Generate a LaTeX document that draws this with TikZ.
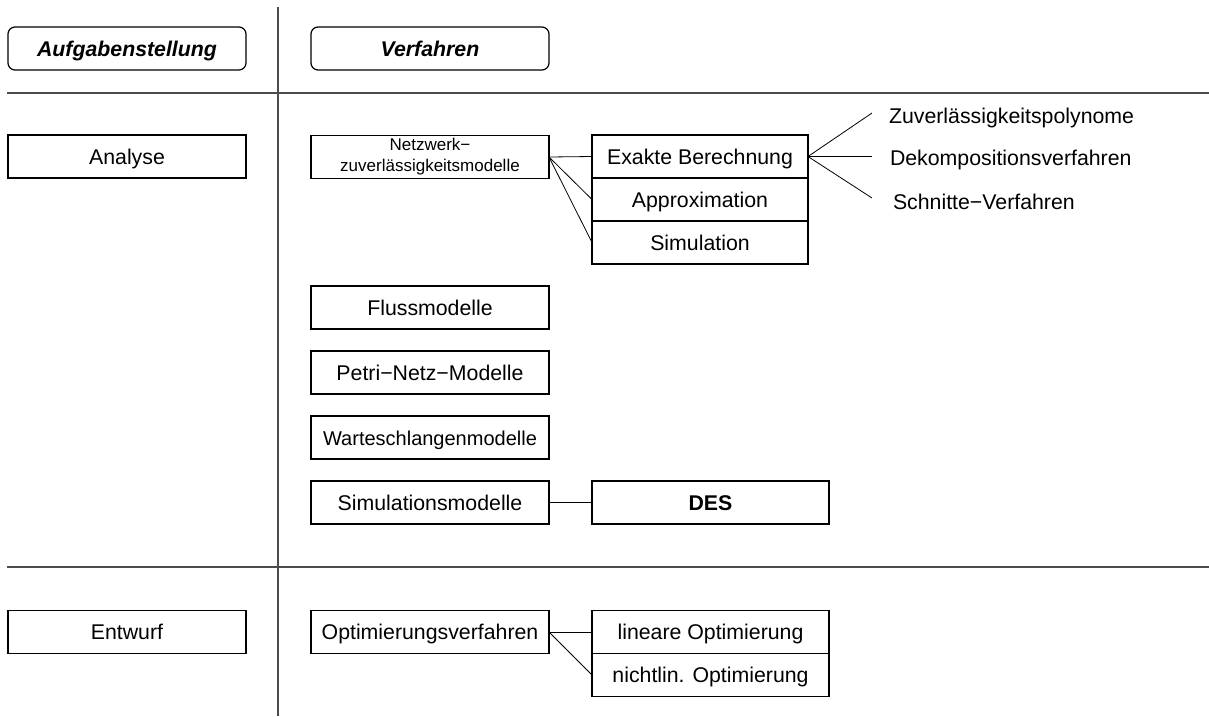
\documentclass[tikz,border=0pt]{standalone}
\usepackage{fontspec}
\setmainfont{Liberation Sans}
\newcommand\mainsize{\fontsize{21.3}{25}\selectfont}
\newcommand\smallsize{\fontsize{17}{21}\selectfont}
\begin{document}
\begin{tikzpicture}[x=1pt,y=-1pt,
  every node/.style={inner sep=0pt, outer sep=0pt},
  boxbase/.style={draw=black, line width=1.2pt, minimum height=43pt, align=center},
  oneline/.style={text height=15pt, text depth=0pt, font=\mainsize},
  colbox/.style={boxbase, oneline, minimum width=238pt},
  subbox/.style={boxbase, oneline, minimum width=216pt},
  widebox/.style={boxbase, oneline, minimum width=237pt},
  headbox/.style={colbox, rounded corners=7pt, font=\mainsize\bfseries\itshape},
  rule/.style={draw=black!70, line width=1.3pt},
  link/.style={draw=black, line width=0.8pt},
  leaf/.style={anchor=west, text height=15pt, text depth=0pt, font=\mainsize}
]
\useasboundingbox (0,0) rectangle (1209,716);

% column separator and row separators
\coordinate (vtop) at (278,7);
\coordinate (vbot) at (278,716);
\coordinate (r1l) at (7,93);
\coordinate (r1r) at (1209,93);
\coordinate (r2l) at (7,567);
\coordinate (r2r) at (1209,567);
\draw[rule] (vtop) -- (vbot);
\draw[rule] (r1l) -- (r1r);
\draw[rule] (r2l) -- (r2r);

% column headers
\node[headbox] (aufg) at (127,48.5) {Aufgabenstellung};
\node[headbox] (verf) at (430,48.5) {Verfahren};

% analysis row
\node[colbox] (analyse) at (127,156.5) {Analyse};
\node[boxbase, minimum width=238pt, font=\smallsize] (netz) at (430,157)
  {Netzwerk−\\zuverlässigkeitsmodelle};
\node[subbox] (exakt) at (700,156.5) {Exakte Berechnung};
\node[subbox] (approx) at (700,199.5) {Approximation};
\node[subbox] (simu) at (700,242.5) {Simulation};

\coordinate (e1) at (872,113);
\coordinate (e2) at (872,156.5);
\coordinate (e3) at (872,198);
\node[leaf] (zuv) at (889,116) {Zuverlässigkeitspolynome};
\node[leaf] (dek) at (890,158) {Dekompositionsverfahren};
\node[leaf] (schn) at (893,202) {Schnitte−Verfahren};

\node[colbox] (fluss) at (430,307.5) {Flussmodelle};
\node[colbox] (petri) at (430,372.5) {Petri−Netz−Modelle};
\node[colbox, font=\fontsize{20}{24}\selectfont] (warte) at (430,437.5) {Warteschlangenmodelle};
\node[colbox] (simmod) at (430,502.5) {Simulationsmodelle};
\node[widebox, line width=2.5pt, font=\mainsize\bfseries] (des) at (710.5,502.5) {DES};

% design row
\node[colbox] (entwurf) at (127,632) {Entwurf};
\node[colbox] (opt) at (430,632) {Optimierungsverfahren};
\node[widebox] (lin) at (710.5,632) {lineare Optimierung};
\node[widebox] (nlin) at (710.5,675) {nichtlin. Optimierung};

% connectors
\draw[link] (netz.east) -- (exakt.west);
\draw[link] (netz.east) -- (approx.west);
\draw[link] (netz.east) -- (simu.west);
\draw[link] (exakt.east) -- (e1);
\draw[link] (exakt.east) -- (e2);
\draw[link] (exakt.east) -- (e3);
\draw[link] (simmod.east) -- (des.west);
\draw[link] (opt.east) -- (lin.west);
\draw[link] (opt.east) -- (nlin.west);
\end{tikzpicture}
\end{document}
